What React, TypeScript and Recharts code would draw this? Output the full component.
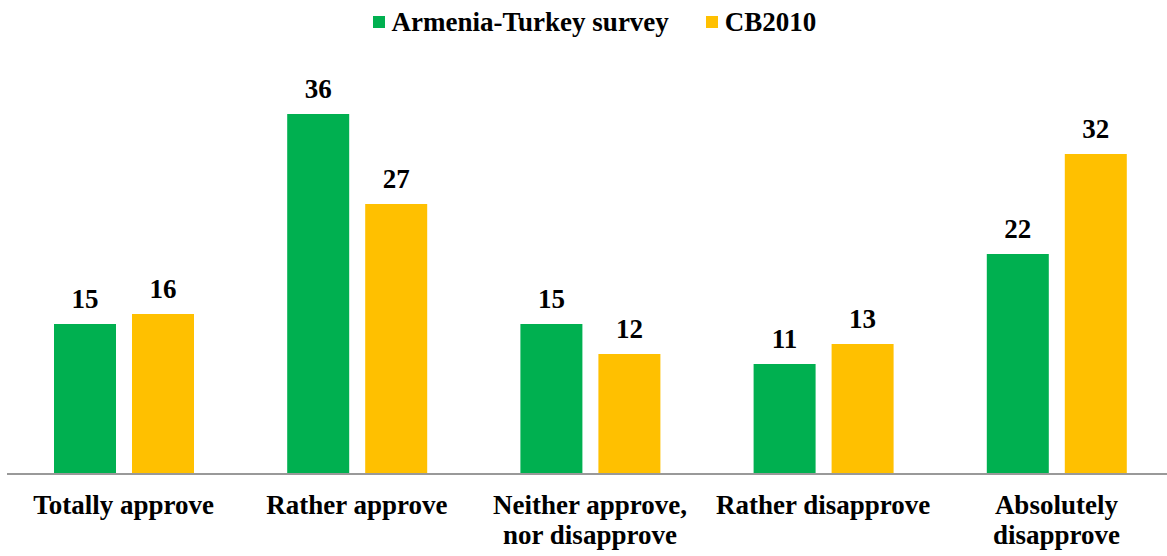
import React from "react";
import { BarChart, Bar, XAxis, YAxis, LabelList } from "recharts";

const categories = [
  "Totally approve",
  "Rather approve",
  "Neither approve,\nnor disapprove",
  "Rather disapprove",
  "Absolutely\ndisapprove",
];
const armeniaTurkey = [15, 36, 15, 11, 22];
const cb2010 = [16, 27, 12, 13, 32];

const data = categories.map((name, i) => ({
  name,
  survey: armeniaTurkey[i],
  cb: cb2010[i],
}));

const FONT = '"Liberation Serif", "Times New Roman", serif';
const GREEN = "#00B050";
const YELLOW = "#FFC000";

const CategoryTick = (props: any) => {
  const { x, y, payload } = props;
  const lines = String(payload.value).split("\n");
  return (
    <text
      x={x}
      y={y}
      textAnchor="middle"
      fontFamily={FONT}
      fontWeight="bold"
      fontSize={27}
      fill="#000"
    >
      {lines.map((line, i) => (
        <tspan key={i} x={x} dy={i === 0 ? 40 : 30}>
          {line}
        </tspan>
      ))}
    </text>
  );
};

const legendItems = [
  { label: "Armenia-Turkey survey", color: GREEN },
  { label: "CB2010", color: YELLOW },
];

export default function App() {
  return (
    <div style={{ position: "absolute", left: 0, top: 0, width: 1167, height: 556, background: "#fff", overflow: "hidden" }}>
      <div
        style={{
          position: "absolute",
          top: 6,
          left: 0,
          width: 1189,
          display: "flex",
          justifyContent: "center",
          gap: 37,
          fontFamily: FONT,
          fontWeight: "bold",
          fontSize: 27,
          lineHeight: "32px",
        }}
      >
        {legendItems.map((it) => (
          <div key={it.label} style={{ display: "flex", alignItems: "center" }}>
            <span
              style={{
                display: "inline-block",
                width: 12,
                height: 12,
                background: it.color,
                marginRight: 7,
              }}
            />
            {it.label}
          </div>
        ))}
      </div>
      <BarChart
        width={1167}
        height={556}
        data={data}
        margin={{ top: 74, right: -6, left: 7, bottom: 0 }}
        barSize={62}
        barGap={16}
      >
        <XAxis
          dataKey="name"
          height={82}
          tickSize={0}
          tickMargin={0}
          tickLine={false}
          interval={0}
          axisLine={{ stroke: "#999", strokeWidth: 2 }}
          tick={<CategoryTick />}
        />
        <YAxis hide domain={[0, 40]} />
        <Bar dataKey="survey" fill={GREEN} isAnimationActive={false}>
          <LabelList
            dataKey="survey"
            position="top"
            offset={16}
            fontFamily={FONT}
            fontWeight="bold"
            fontSize={27}
            fill="#000"
          />
        </Bar>
        <Bar dataKey="cb" fill={YELLOW} isAnimationActive={false}>
          <LabelList
            dataKey="cb"
            position="top"
            offset={16}
            fontFamily={FONT}
            fontWeight="bold"
            fontSize={27}
            fill="#000"
          />
        </Bar>
      </BarChart>
    </div>
  );
}
